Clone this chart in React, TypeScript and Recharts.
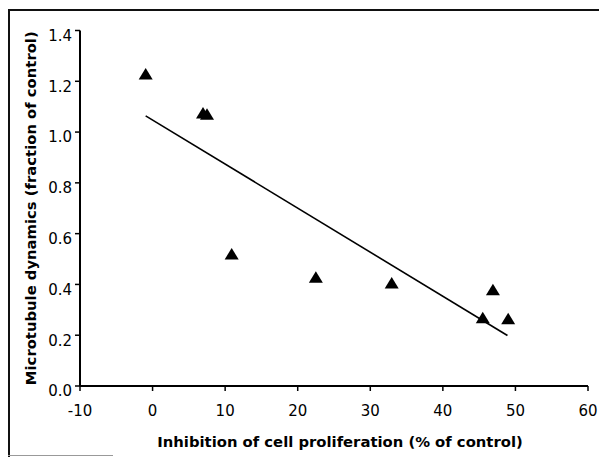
import React from "react";
import { ComposedChart, Scatter, XAxis, YAxis, ReferenceLine } from "recharts";

// inhibition of proliferation (%) vs microtubule dynamics (fraction of control)
const inhibition = [-0.95, 6.95, 7.5, 10.9, 22.5, 32.95, 45.5, 46.9, 49.0];
const dynamics = [1.229, 1.075, 1.07, 0.52, 0.428, 0.406, 0.269, 0.379, 0.265];

// regression line end points
const fitX = [-0.95, 48.9];
const fitY = [1.064, 0.199];

const xTicks = [-10, 0, 10, 20, 30, 40, 50, 60];
const yTicks = [0, 0.2, 0.4, 0.6, 0.8, 1.0, 1.2, 1.4];

const points = inhibition.map((x, i) => ({ x, y: dynamics[i] }));

const Triangle = (props: any) => {
  const { cx, cy } = props;
  return (
    <path
      d={`M${cx},${cy - 6}L${cx + 7},${cy + 5.5}L${cx - 7},${cy + 5.5}Z`}
      fill="#000"
    />
  );
};

const tickFont = { fontFamily: "DejaVu Sans", fontSize: 15, fill: "#000" };
const titleFont = {
  fontFamily: "DejaVu Sans",
  fontSize: 14.8,
  fontWeight: "bold",
  fill: "#000",
};

export default function App() {
  return (
    <div
      style={{
        position: "relative",
        width: 599,
        height: 449,
        overflow: "hidden",
        background: "#fff",
      }}
    >
      <style>{`body{overflow:hidden;background:#fff}`}</style>
      <div
        style={{
          position: "absolute",
          left: 0,
          top: 1,
          width: 640,
          height: 460,
          borderLeft: "2px solid #111",
          borderTop: "2px solid #111",
        }}
      />
      <div
        style={{
          position: "absolute",
          left: 0,
          top: 447,
          width: 105,
          height: 1,
          background: "#999",
        }}
      />
      <ComposedChart
        width={599}
        height={449}
        margin={{ top: 22.5, right: 19, bottom: 0, left: 0 }}
        style={{ position: "absolute", left: 0, top: 0 }}
      >
        <XAxis
          type="number"
          dataKey="x"
          domain={[-10, 60]}
          ticks={xTicks}
          interval={0}
          height={71}
          stroke="#000"
          axisLine={{ stroke: "#000", strokeWidth: 2 }}
          tickLine={{ stroke: "#000", strokeWidth: 1.5 }}
          tickSize={5}
          tickMargin={14}
          tick={tickFont}
          label={{
            value: "Inhibition of cell proliferation (% of control)",
            position: "insideBottom",
            offset: 10,
            dx: 6,
            style: titleFont,
          }}
        />
        <YAxis
          type="number"
          dataKey="y"
          domain={[0, 1.4]}
          ticks={yTicks}
          interval={0}
          width={72}
          stroke="#000"
          axisLine={{ stroke: "#000", strokeWidth: 2 }}
          tickLine={{ stroke: "#000", strokeWidth: 1.5 }}
          tickSize={5}
          tickMargin={3}
          tick={{ ...tickFont, dy: 5 }}
          tickFormatter={(v: number) => v.toFixed(1)}
          label={{
            value: "Microtubule dynamics (fraction of control)",
            angle: -90,
            position: "insideLeft",
            offset: 23,
            style: { ...titleFont, textAnchor: "middle" },
          }}
        />
        <ReferenceLine
          segment={[
            { x: fitX[0], y: fitY[0] },
            { x: fitX[1], y: fitY[1] },
          ]}
          stroke="#000"
          strokeWidth={1.6}
          ifOverflow="visible"
        />
        <Scatter
          data={points}
          shape={<Triangle />}
          isAnimationActive={false}
        />
      </ComposedChart>
    </div>
  );
}
